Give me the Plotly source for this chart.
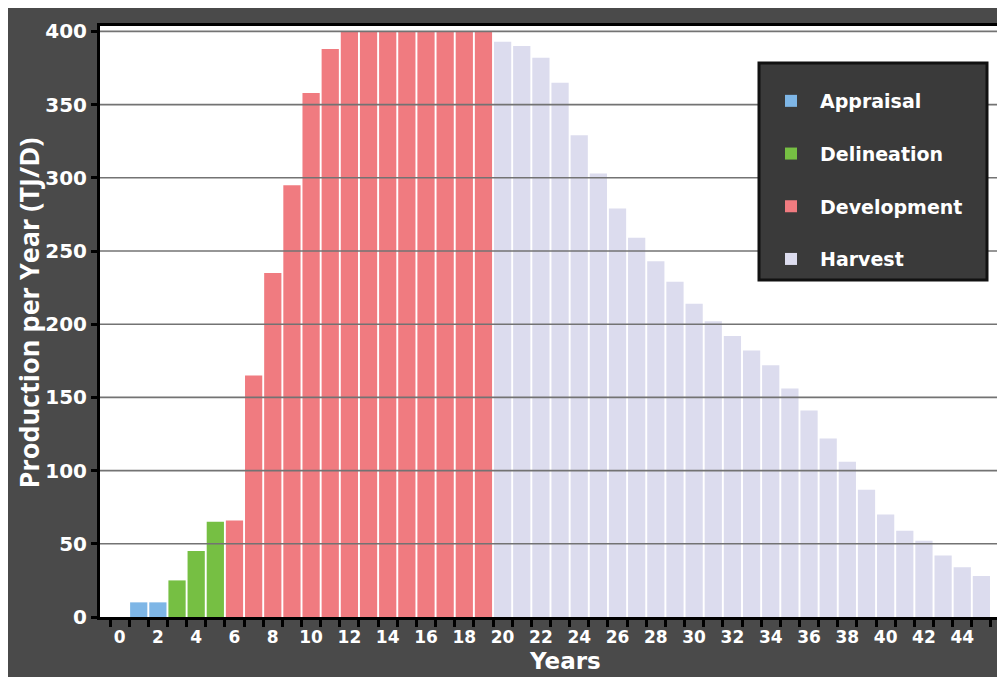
import plotly.graph_objects as go

# ---- data ----
years = list(range(46))
production = [0, 10, 10, 25, 45, 65, 66, 165, 235, 295, 358, 388,
              400, 400, 400, 400, 400, 400, 400, 400,
              393, 390, 382, 365, 329, 303, 279, 259, 243, 229, 214,
              202, 192, 182, 172, 156, 141, 122, 106, 87, 70, 59, 52,
              42, 34, 28]
phase = (["Appraisal"] * 3 + ["Delineation"] * 3 + ["Development"] * 14
         + ["Harvest"] * 26)
phase_names = ["Appraisal", "Delineation", "Development", "Harvest"]
phase_colors = ["#7eb6e6", "#76bf43", "#f07b80", "#dcdcee"]
y_ticks = [0, 50, 100, 150, 200, 250, 300, 350, 400]
x_ticks = list(range(0, 45, 2))

BG = "#4a4a4a"
FONT = "DejaVu Sans"

W, H = 1005, 677
L, T, B = 92, 18, 68
PW, PH = W - L, H - T - B


def px(x):
    return (x - L) / PW


def py(y):
    return (H - B - y) / PH


fig = go.Figure()
for name, color in zip(phase_names, phase_colors):
    xs = [y for y, p in zip(years, phase) if p == name]
    vs = [v for v, p in zip(production, phase) if p == name]
    fig.add_trace(go.Bar(x=xs, y=vs, name=name, legendgroup=name,
                         marker=dict(color=color, line=dict(width=0))))

shapes = []
# gridlines drawn above bars
for v in y_ticks[1:]:
    shapes.append(dict(type="line", xref="paper", yref="y", x0=0, x1=1, y0=v, y1=v,
                       line=dict(color="#737373", width=1.6), layer="above"))
# legend box (drawn behind the legend entries)
shapes.append(dict(type="rect", xref="paper", yref="paper",
                   x0=px(751), x1=px(979), y0=py(272), y1=py(55),
                   fillcolor="#3a3a3a", line=dict(color="#111111", width=3),
                   layer="above"))

fig.update_layout(
    width=W, height=H,
    margin=dict(l=L, r=0, t=T, b=B),
    paper_bgcolor=BG, plot_bgcolor="white",
    barmode="overlay", bargap=0.1,
    showlegend=True,
    legend=dict(x=px(754), y=py(74), xanchor="left", yanchor="top",
                bgcolor="rgba(0,0,0,0)", borderwidth=0,
                font=dict(family=FONT, size=19, color="white", weight="bold"),
                tracegroupgap=25, itemwidth=48, traceorder="grouped"),
    shapes=shapes,
    xaxis=dict(range=[-1.022, 46.65], tickmode="array", tickvals=x_ticks,
               ticktext=[str(v) for v in x_ticks],
               ticks="outside", ticklen=3, tickcolor="rgba(0,0,0,0)",
               tickfont=dict(family=FONT, size=17, color="white", weight="bold"),
               showline=True, linecolor="black", linewidth=3, mirror=True,
               showgrid=False, zeroline=False,
               minor=dict(tickmode="array", tickvals=[k - 0.5 for k in range(48)],
                          ticks="outside", ticklen=7, tickwidth=3, tickcolor="black",
                          showgrid=False)),
    yaxis=dict(range=[0, 403.7], tickmode="array", tickvals=y_ticks,
               ticks="outside", ticklen=6, tickwidth=3, tickcolor="black",
               tickfont=dict(family=FONT, size=20, color="white", weight="bold"),
               showline=True, linecolor="black", linewidth=3,
               showgrid=False, zeroline=False),
    annotations=[
        dict(text="Production per Year (TJ/D)", xref="paper", yref="paper",
             x=px(20), y=py(305.5), textangle=-90,
             showarrow=False, xanchor="center", yanchor="middle",
             font=dict(family="Open Sans", size=27, color="white", weight="bold")),
        dict(text="Years", xref="paper", yref="paper",
             x=px(557), y=py(653),
             showarrow=False, xanchor="center", yanchor="middle",
             font=dict(family=FONT, size=23, color="white", weight="bold")),
    ],
)

fig.write_html("out.html")
